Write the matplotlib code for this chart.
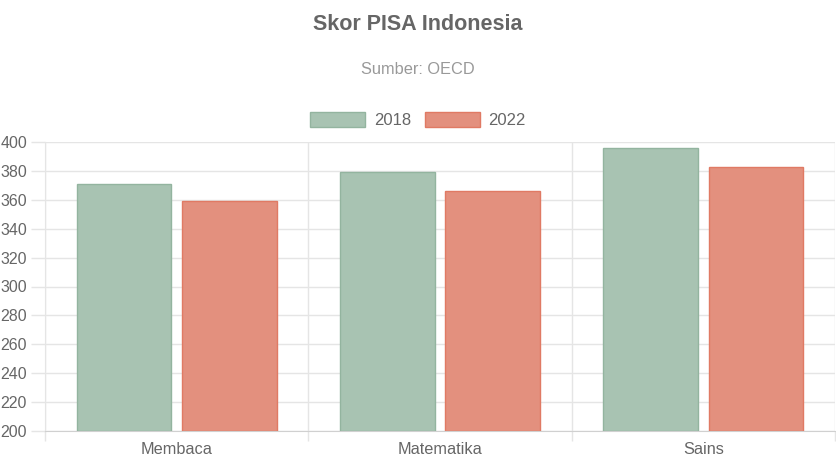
import matplotlib
matplotlib.use("Agg")
import matplotlib.pyplot as plt
import numpy as np
from matplotlib.patches import Patch

categories = ["Membaca", "Matematika", "Sains"]
series_names = ["2018", "2022"]
scores_2018 = [371, 379, 396]
scores_2022 = [359, 366, 383]
y_ticks = [200, 220, 240, 260, 280, 300, 320, 340, 360, 380, 400]

plt.rcParams['font.family'] = ['Liberation Sans', 'DejaVu Sans']

W, H = 836, 469
fig = plt.figure(figsize=(W/100, H/100), dpi=100)
ax = fig.add_axes([45/W, 1-431/H, 790/W, 289/H])

fills = ["#a8c3b2", "#e3907e"]
edges = ["#93b49f", "#e07a64"]
x = np.arange(len(categories))
slot = 0.8 / 2
bw = slot * 0.9
for i, (vals, fc, ec, name) in enumerate(zip([scores_2018, scores_2022], fills, edges, series_names)):
    pos = x - 0.4 + slot * (i + 0.5)
    ax.bar(pos, np.array(vals) - 200, bottom=200, width=bw, color=fc, edgecolor=ec, linewidth=1, zorder=3)

ax.set_xlim(-0.5, len(categories) - 0.5)
ax.set_ylim(200, 400)
ax.set_yticks(y_ticks)
ax.set_xticks(np.arange(len(categories) + 1) - 0.5, minor=False)
ax.set_xticklabels([""] * (len(categories) + 1))
ax.set_xticks(x, minor=True)
ax.set_xticklabels(categories, minor=True)
ax.tick_params(axis='x', which='minor', length=0, pad=8, labelsize=11.7, labelcolor="#666666")
ax.tick_params(axis='x', which='major', length=7, color="#e5e5e5", width=1)
ax.tick_params(axis='y', length=10, color="#e5e5e5", width=1, pad=3, labelsize=11.5, labelcolor="#666666")
ax.grid(True, which='major', color="#e5e5e5", linewidth=1, zorder=0)
ax.set_axisbelow(True)
for s in ["top", "right"]:
    ax.spines[s].set_visible(False)
ax.spines["left"].set_color("#e5e5e5")
ax.spines["bottom"].set_color("#d0d0d0")

fig.text(0.5, 1-24/H, "Skor PISA Indonesia", ha="center", va="center", fontsize=15.5, fontweight="bold", color="#666666")
fig.text(0.5, 1-69/H, "Sumber: OECD", ha="center", va="center", fontsize=11.8, color="#999999")

handles = [Patch(facecolor=fc, edgecolor=ec, linewidth=1) for fc, ec in zip(fills, edges)]
fig.legend(handles, series_names, loc="center", bbox_to_anchor=(418/W, 1-120/H), ncol=2, frameon=False,
           fontsize=12, labelcolor="#666666", handlelength=3.3, handleheight=1.0, handletextpad=0.5,
           columnspacing=0.85, borderaxespad=0, borderpad=0)

fig.savefig("out.png", dpi=100, facecolor="white")
